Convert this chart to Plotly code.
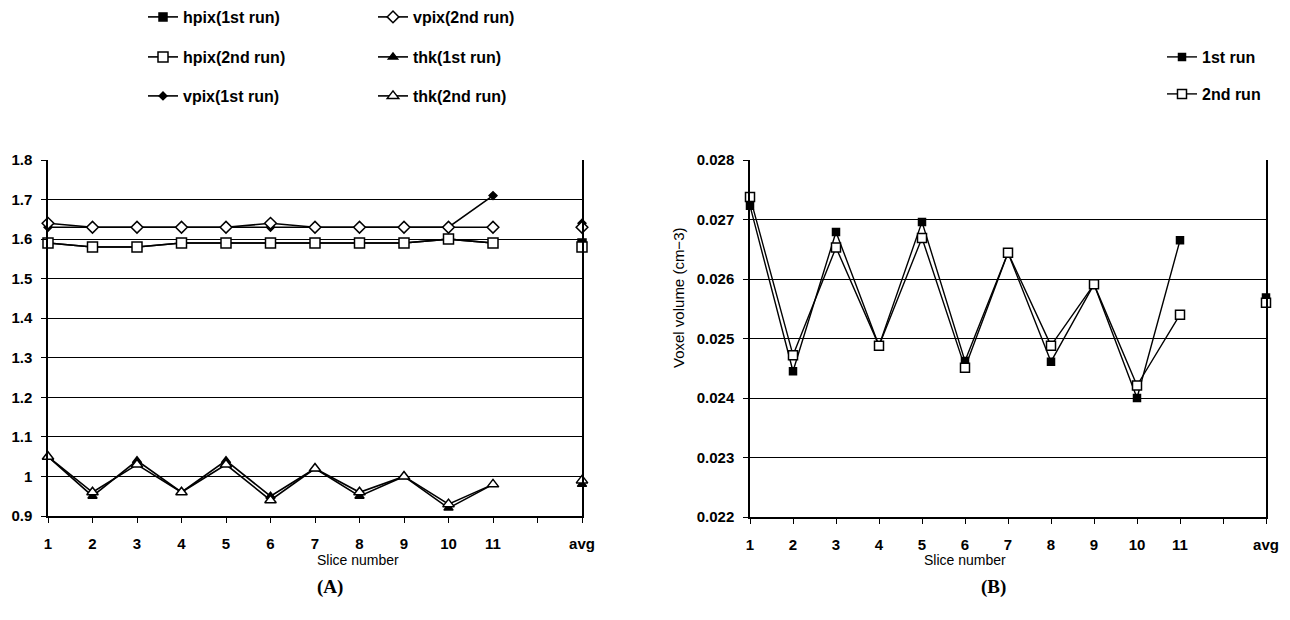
import plotly.graph_objects as go

# ---------------- data ----------------
categories = ["1", "2", "3", "4", "5", "6", "7", "8", "9", "10", "11", "", "avg"]

# Panel A
hpix_1st = [1.59, 1.58, 1.58, 1.59, 1.59, 1.59, 1.59, 1.59, 1.59, 1.60, 1.59, None, 1.59]
hpix_2nd = [1.59, 1.58, 1.58, 1.59, 1.59, 1.59, 1.59, 1.59, 1.59, 1.60, 1.59, None, 1.58]
vpix_1st = [1.63, 1.63, 1.63, 1.63, 1.63, 1.63, 1.63, 1.63, 1.63, 1.63, 1.71, None, 1.64]
vpix_2nd = [1.64, 1.63, 1.63, 1.63, 1.63, 1.64, 1.63, 1.63, 1.63, 1.63, 1.63, None, 1.63]
thk_1st = [1.05, 0.95, 1.04, 0.96, 1.04, 0.95, 1.02, 0.95, 1.00, 0.92, 0.98, None, 0.98]
thk_2nd = [1.05, 0.96, 1.03, 0.96, 1.03, 0.94, 1.02, 0.96, 1.00, 0.93, 0.98, None, 0.99]

# Panel B
vox_1st = [0.02723, 0.02445, 0.02679, 0.02488, 0.02696, 0.02462, 0.02644, 0.02461, 0.02591, 0.02400, 0.02665, None, 0.02569]
vox_2nd = [0.02738, 0.02472, 0.02653, 0.02488, 0.02669, 0.02451, 0.02644, 0.02488, 0.02591, 0.02421, 0.02540, None, 0.02560]

yA_ticks = [0.9, 1.0, 1.1, 1.2, 1.3, 1.4, 1.5, 1.6, 1.7, 1.8]
yB_ticks = [0.022, 0.023, 0.024, 0.025, 0.026, 0.027, 0.028]

# ---------------- figure ----------------
# page body has an 8px margin, so the figure is shrunk by that amount and
# layout positions (given in window pixels) are shifted accordingly
OFF = 8
W, H = 1290 - OFF, 620 - OFF
xpos = list(range(1, len(categories) + 1))
FONT = "Liberation Sans"
BLACK = "black"


def px(v):
    return (v - OFF) / W


def py(v):
    return 1 - (v - OFF) / H


fig = go.Figure()


def add(y, name, sym, size, fill, xa, ya, legend, lw=1.6):
    fig.add_trace(go.Scatter(
        x=xpos, y=y, name=name, mode="lines+markers",
        connectgaps=False, cliponaxis=False,
        line=dict(color=BLACK, width=lw),
        marker=dict(symbol=sym, size=size, color=fill,
                    line=dict(color=BLACK, width=1.5)),
        xaxis=xa, yaxis=ya, legend=legend,
    ))


# Panel A traces
add(hpix_1st, "hpix(1st run)", "square", 8, BLACK, "x", "y", "legend")
add(hpix_2nd, "hpix(2nd run)", "square", 10, "white", "x", "y", "legend3")
add(vpix_1st, "vpix(1st run)", "diamond", 6, BLACK, "x", "y", "legend5")
add(vpix_2nd, "vpix(2nd run)", "diamond", 9, "white", "x", "y", "legend2")
add(thk_1st, "thk(1st run)", "triangle-up", 8, BLACK, "x", "y", "legend4")
add(thk_2nd, "thk(2nd run)", "triangle-up", 10, "white", "x", "y", "legend6")

# Panel B traces
add(vox_1st, "1st run", "square", 7, BLACK, "x2", "y2", "legend7", lw=1.4)
add(vox_2nd, "2nd run", "square", 9, "white", "x2", "y2", "legend8", lw=1.4)

tickfont = dict(family=FONT, size=15, color=BLACK, weight="bold")

xaxis_common = dict(
    range=[1, 13], tickmode="array", tickvals=xpos, ticktext=categories,
    showgrid=False, zeroline=False, showline=True, linecolor=BLACK, linewidth=1.5,
    ticks="outside", ticklen=5, tickcolor=BLACK, tickwidth=1,
    tickfont=tickfont, fixedrange=True, automargin=False, ticklabelstandoff=8,
)
yaxis_common = dict(
    showgrid=True, gridcolor=BLACK, gridwidth=1, zeroline=False,
    showline=True, linecolor=BLACK, linewidth=1.5, mirror=True,
    ticks="outside", ticklen=5, tickcolor=BLACK, tickwidth=1,
    tickfont=tickfont, fixedrange=True, automargin=False, ticklabelstandoff=6,
)

fig.update_layout(
    width=W, height=H,
    margin=dict(l=0, r=0, t=0, b=0, autoexpand=False),
    paper_bgcolor="white", plot_bgcolor="white",
    showlegend=True,
    xaxis=dict(domain=[px(48), px(582)], anchor="y", **xaxis_common),
    yaxis=dict(domain=[py(516), py(160)], anchor="x", range=[0.9, 1.8],
               tickvals=yA_ticks, ticktext=[f"{v:g}" for v in yA_ticks], **yaxis_common),
    xaxis2=dict(domain=[px(750), px(1266)], anchor="y2", **xaxis_common),
    yaxis2=dict(domain=[py(517), py(160)], anchor="x2", range=[0.022, 0.028],
                tickvals=yB_ticks, ticktext=[f"{v:.3f}" for v in yB_ticks], **yaxis_common),
)

# legends: one entry each, placed like the original
legfont = dict(family=FONT, size=16, color=BLACK, weight="bold")


def leg(x, y):
    return dict(x=px(x), y=py(y), xanchor="left", yanchor="middle",
                bgcolor="rgba(0,0,0,0)", borderwidth=0, font=legfont,
                itemwidth=30, orientation="v", traceorder="normal")


fig.update_layout(
    legend=leg(143, 17),
    legend2=leg(373, 17),
    legend3=leg(143, 57),
    legend4=leg(373, 57),
    legend5=leg(143, 96),
    legend6=leg(373, 96),
    legend7=leg(1162, 57),
    legend8=leg(1162, 94),
)

ann = []
ann.append(dict(text="Slice number", x=px(315), y=py(570), xref="paper", yref="paper",
                showarrow=False, font=dict(family=FONT, size=14, color=BLACK)))
ann.append(dict(text="Slice number", x=px(1008), y=py(570), xref="paper", yref="paper",
                showarrow=False, font=dict(family=FONT, size=14, color=BLACK)))
ann.append(dict(text="<b>(A)</b>", x=px(315), y=py(600), xref="paper", yref="paper",
                showarrow=False, font=dict(family="Liberation Serif", size=19, color=BLACK)))
ann.append(dict(text="<b>(B)</b>", x=px(1008), y=py(600), xref="paper", yref="paper",
                showarrow=False, font=dict(family="Liberation Serif", size=19, color=BLACK)))
ann.append(dict(text="Voxel volume (cm\u22123)", x=px(678), y=py(298), xref="paper", yref="paper",
                showarrow=False, textangle=-90, font=dict(family=FONT, size=15, color=BLACK)))
fig.update_layout(annotations=ann)

fig.write_html("out.html")
